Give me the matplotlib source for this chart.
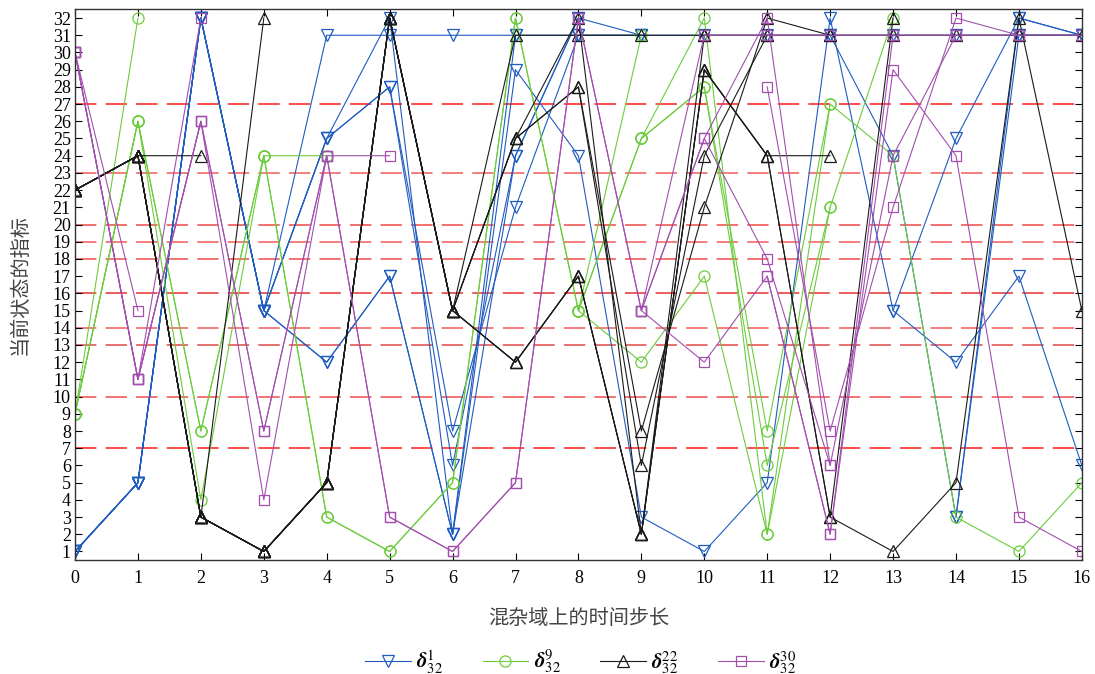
import numpy as np
import matplotlib
matplotlib.use('Agg')
import matplotlib.pyplot as plt

plt.rcParams['font.family'] = ['Liberation Serif', 'DejaVu Serif']
plt.rcParams['mathtext.fontset'] = 'stix'

N = None
x = np.arange(17)

# trajectories of each state (value at time step 0..16, None = no point)
blue_paths = [
    [1, 5, 32, 15, 31, 31, 31, 31, 31, 31, 31, 31, 31, 31, 31, 31, 31],
    [1, 5, 32, 15, 25, 32, 2, 31],
    [1, 5, 32, 15, 25, 28, 8, 21, 31, 31],
    [1, 5, 32, 15, 25, 28, 6, 24, 32, 31],
    [1, 5, 32, 15, 12, 17, 2, 29, 24, 3, 1, 5, 32, 15, 25, 32, 31],
    [1, 5, 32, 15, 12, 17, 2, 24, 32],
    [N]*13 + [15, 12, 17, 6],
    [N]*12 + [31, 24, 3, 32, 31],
    [N]*14 + [3, 31, 31],
]
green_paths = [
    [9, 32],
    [9, 26, 8, 24, 24],
    [9, 26, 4, 24, 3, 1, 5, 32, 15, 31],
    [9, 26, 8, 24, 3, 1, 5, 32, 15, 25, 32, 2, 27, 24, 3, 1, 5],
    [N]*8 + [15, 25, 28, 8, 27],
    [N]*9 + [25, 28, 6, 21, 32],
    [N]*8 + [15, 12, 17, 2, 21],
]
black_paths = [
    [22, 24, 24],
    [22, 24, 3, 32],
    [22, 24, 3, 1, 5, 32, 15, 31, 31, 31, 31, 31, 31, 31, 31, 31, 31],
    [22, 24, 3, 1, 5, 32, 15, 25, 32, 2, 31],
    [22, 24, 3, 1, 5, 32, 15, 25, 28, 8, 21, 32, 31],
    [22, 24, 3, 1, 5, 32, 15, 25, 28, 6, 24, 31],
    [22, 24, 3, 1, 5, 32, 15, 12, 17, 2, 29, 24, 24],
    [22, 24, 3, 1, 5, 32, 15, 12, 17, 2, 29, 24, 3, 32],
    [22, 24, 3, 1, 5, 32, 15, 12, 17, 2, 29, 24, 3, 1, 5, 32, 15],
]
purple_paths = [
    [30, 15],
    [30, 11, 32],
    [30, 11, 26, 8, 24, 24],
    [30, 11, 26, 4, 24, 3, 1, 5, 32, 15, 31, 31, 31, 31, 31, 31, 31],
    [30, 11, 26, 8, 24, 3, 1, 5, 32, 15, 25, 32, 6, 24, 31],
    [N]*9 + [15, 25, 18, 6],
    [N]*9 + [15, 12, 17, 2, 31],
    [N]*11 + [17, 2, 29, 24, 3, 1],
    [N]*11 + [28, 8, 21, 32, 31],
]

dash_levels = [27, 23, 20, 19, 18, 16, 14, 13, 10, 7]
dash_colors = ['#ff1a1a', '#f25a5a', '#f04848', '#f25a5a', '#f04c4c',
               '#e83030', '#f25a5a', '#e04848', '#f04c4c', '#ff1a1a']

labels = [r'$\boldsymbol{\delta}_{32}^{1}$', r'$\boldsymbol{\delta}_{32}^{9}$',
          r'$\boldsymbol{\delta}_{32}^{22}$', r'$\boldsymbol{\delta}_{32}^{30}$']

fig = plt.figure(figsize=(10.95, 6.74), dpi=100)
ax = fig.add_axes([0.0685, 0.169, 0.9195, 0.817])

for lv, c in zip(dash_levels, dash_colors):
    ax.axhline(lv, color=c, lw=1.1, ls=(0, (14, 6)), zorder=1)

series = [
    (blue_paths, '#1f5cc0', 'v'),
    (green_paths, '#6ccc3c', 'o'),
    (black_paths, '#1a1a1a', '^'),
    (purple_paths, '#a24fae', 's'),
]
handles = []
for (paths, col, mk), lab in zip(series, labels):
    for i, p in enumerate(paths):
        yy = np.array([np.nan if v is None else v for v in p] +
                      [np.nan]*(17-len(p)), dtype=float)
        h, = ax.plot(x, yy, color=col, lw=0.8, marker=mk, ms=8 if mk != 's' else 7,
                     mfc='none', mec=col, mew=0.9, zorder=2)
        if i == 0:
            h.set_label(lab)
            handles.append(h)

ax.set_xlim(0, 16)
ax.set_ylim(0.5, 32.5)
ax.set_xticks(range(0, 17))
ax.set_yticks(range(1, 33))
ax.tick_params(direction='in', top=True, right=True, labelsize=13, length=5)
ax.tick_params(axis='x', pad=7)
ax.tick_params(axis='y', pad=3)
for s in ax.spines.values():
    s.set_linewidth(1.0)
    s.set_color('#333333')

ax.set_xlabel('混杂域上的时间步长', family=['Noto Sans CJK SC'], fontsize=14.5,
              color='#444444', labelpad=15)
ax.set_ylabel('当前状态的指标', family=['Noto Sans CJK SC'], fontsize=14.5,
              color='#444444', labelpad=16)

fig.legend(handles=handles, loc='center', bbox_to_anchor=(0.53, 0.018), ncol=4,
           frameon=False, fontsize=15, handlelength=2.2, columnspacing=1.9,
           handletextpad=0.25)

fig.savefig('out.png', dpi=100)
